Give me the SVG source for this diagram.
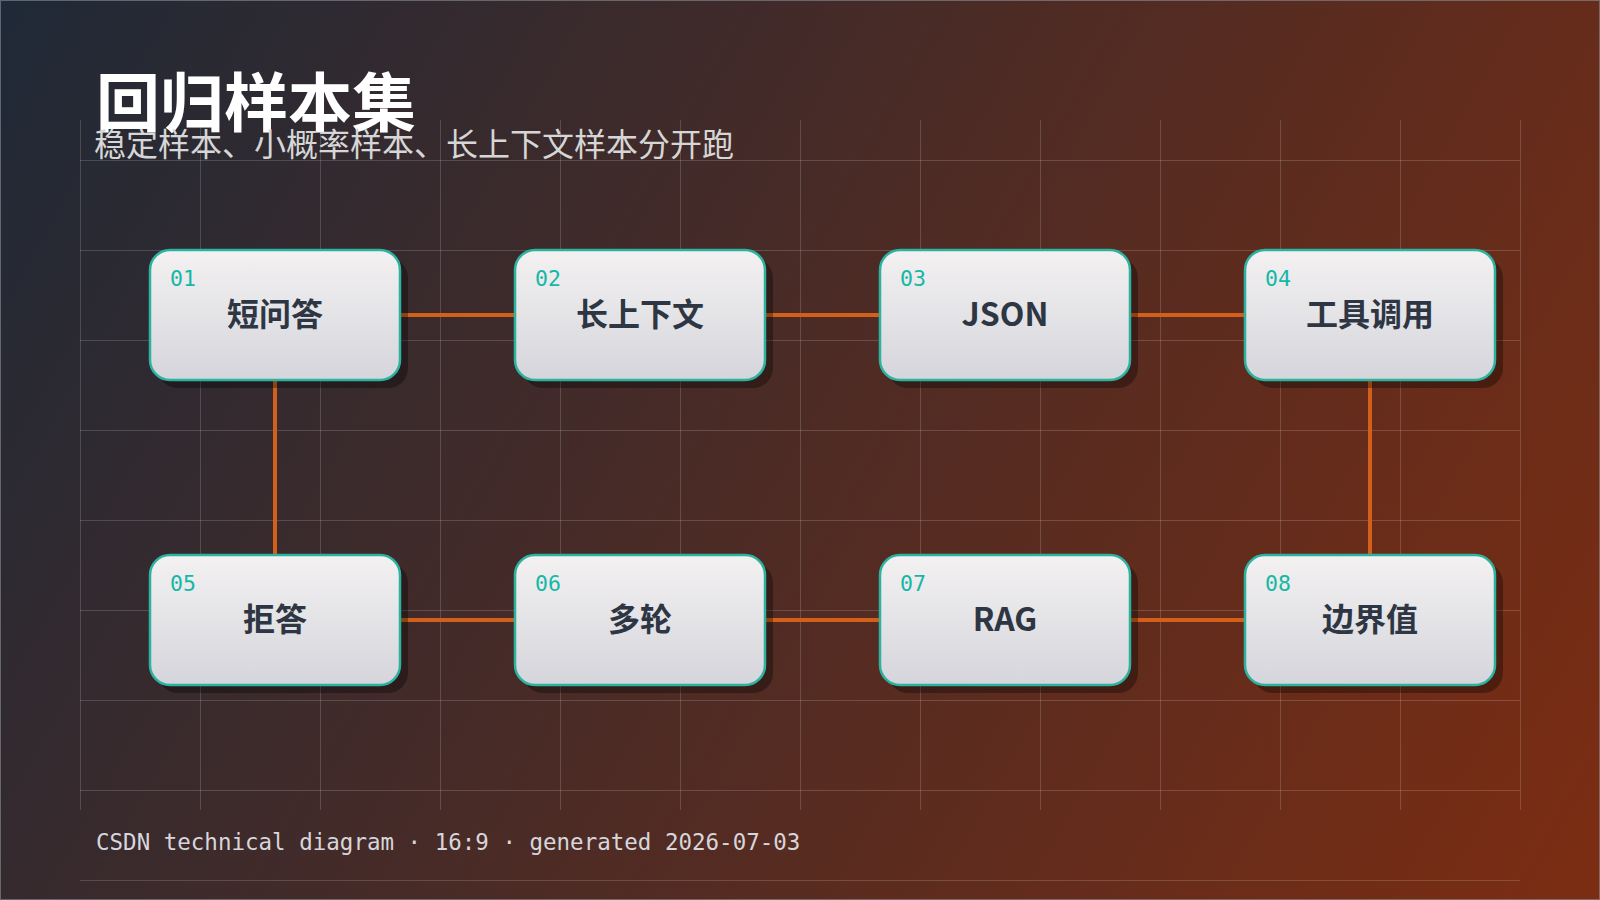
<svg xmlns="http://www.w3.org/2000/svg" width="1600" height="900" viewBox="0 0 1600 900">
<defs>
<linearGradient id="bg" gradientUnits="userSpaceOnUse" x1="0" y1="0" x2="1600" y2="900">
<stop offset="0" stop-color="#1f2937"/>
<stop offset="1" stop-color="#7c2d12"/>
</linearGradient>
<linearGradient id="nodeFill" x1="0" y1="0" x2="0" y2="1">
<stop offset="0" stop-color="#f3f1f1"/>
<stop offset="1" stop-color="#d5d5dc"/>
</linearGradient>
<pattern id="grid" x="80" y="160" width="120" height="90" patternUnits="userSpaceOnUse">
<path d="M0.5 0V90M0 0.5H120" fill="none" stroke="#ffffff" stroke-opacity="0.16" stroke-width="1"/>
</pattern>
</defs>
<style>
.title{font-family:"Noto Sans CJK SC","Noto Sans",sans-serif;font-weight:700;font-size:64px;fill:#ffffff}
.sub{font-family:"Noto Sans CJK SC","Noto Sans",sans-serif;font-weight:400;font-size:32px;fill:#d6d6d6}
.foot{font-family:"DejaVu Sans Mono","Liberation Mono",monospace;font-size:22.5px;fill:#d6d6dc}
.box{fill:url(#nodeFill);stroke:#2bb3a0;stroke-width:2.5}
.shadow{fill:#000000;fill-opacity:0.32}
.num{font-family:"DejaVu Sans Mono","Liberation Mono",monospace;font-size:21.5px;fill:#14b8a6}
.label{font-family:"Noto Sans CJK SC","Noto Sans",sans-serif;font-weight:700;font-size:32px;fill:#2d3642;text-anchor:middle}
.edge{stroke:#d2601a;stroke-width:4;stroke-linecap:round;fill:none}
.gridline{stroke:#ffffff;stroke-opacity:0.16;stroke-width:1}
</style>
<rect x="0" y="0" width="1600" height="900" fill="url(#bg)"/>
<rect x="0.5" y="0.5" width="1599" height="899" fill="none" stroke="#8a8f98" stroke-opacity="0.6" stroke-width="1"/>
<g id="grid-lines">
<rect x="80" y="160" width="1440" height="650" fill="url(#grid)"/>
<path class="gridline" d="M80.5 120V160M200.5 120V160M320.5 120V160M440.5 120V160M560.5 120V160M680.5 120V160M800.5 120V160M920.5 120V160M1040.5 120V160M1160.5 120V160M1280.5 120V160M1400.5 120V160M1520.5 120V810"/>
<path class="gridline" d="M80 880.5H1520"/>
</g>
<text class="title" x="96" y="126">回归样本集</text>
<text class="sub" x="94" y="156">稳定样本、小概率样本、长上下文样本分开跑</text>
<g id="connectors">
<line class="edge" x1="400" y1="315" x2="515" y2="315"/>
<line class="edge" x1="765" y1="315" x2="880" y2="315"/>
<line class="edge" x1="1130" y1="315" x2="1245" y2="315"/>
<line class="edge" x1="1370" y1="380" x2="1370" y2="555"/>
<line class="edge" x1="275" y1="380" x2="275" y2="555"/>
<line class="edge" x1="400" y1="620" x2="515" y2="620"/>
<line class="edge" x1="765" y1="620" x2="880" y2="620"/>
<line class="edge" x1="1130" y1="620" x2="1245" y2="620"/>
</g>
<g id="node-01"><rect class="shadow" x="158" y="258" width="250" height="130" rx="20"/><rect class="box" x="150" y="250" width="250" height="130" rx="20"/><text class="num" x="170" y="286">01</text><text class="label" x="275" y="326">短问答</text></g>
<g id="node-02"><rect class="shadow" x="523" y="258" width="250" height="130" rx="20"/><rect class="box" x="515" y="250" width="250" height="130" rx="20"/><text class="num" x="535" y="286">02</text><text class="label" x="640" y="326">长上下文</text></g>
<g id="node-03"><rect class="shadow" x="888" y="258" width="250" height="130" rx="20"/><rect class="box" x="880" y="250" width="250" height="130" rx="20"/><text class="num" x="900" y="286">03</text><text class="label" x="1005" y="326">JSON</text></g>
<g id="node-04"><rect class="shadow" x="1253" y="258" width="250" height="130" rx="20"/><rect class="box" x="1245" y="250" width="250" height="130" rx="20"/><text class="num" x="1265" y="286">04</text><text class="label" x="1370" y="326">工具调用</text></g>
<g id="node-05"><rect class="shadow" x="158" y="563" width="250" height="130" rx="20"/><rect class="box" x="150" y="555" width="250" height="130" rx="20"/><text class="num" x="170" y="591">05</text><text class="label" x="275" y="631">拒答</text></g>
<g id="node-06"><rect class="shadow" x="523" y="563" width="250" height="130" rx="20"/><rect class="box" x="515" y="555" width="250" height="130" rx="20"/><text class="num" x="535" y="591">06</text><text class="label" x="640" y="631">多轮</text></g>
<g id="node-07"><rect class="shadow" x="888" y="563" width="250" height="130" rx="20"/><rect class="box" x="880" y="555" width="250" height="130" rx="20"/><text class="num" x="900" y="591">07</text><text class="label" x="1005" y="631">RAG</text></g>
<g id="node-08"><rect class="shadow" x="1253" y="563" width="250" height="130" rx="20"/><rect class="box" x="1245" y="555" width="250" height="130" rx="20"/><text class="num" x="1265" y="591">08</text><text class="label" x="1370" y="631">边界值</text></g>
<text class="foot" x="96" y="850">CSDN technical diagram · 16:9 · generated 2026-07-03</text>
</svg>
